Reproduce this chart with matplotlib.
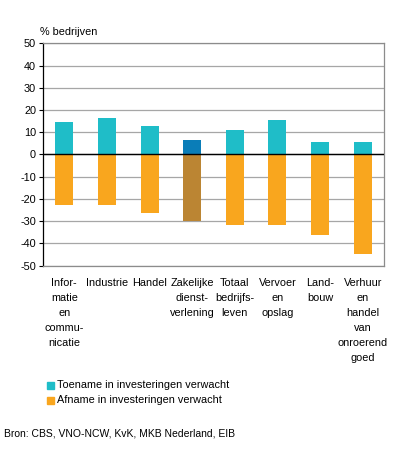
import matplotlib
matplotlib.use("Agg")
import matplotlib.pyplot as plt
from matplotlib.patches import Rectangle

plt.rcParams['font.family'] = ['Liberation Sans', 'DejaVu Sans']

categories = ["Infor-\nmatie\nen\ncommu-\nnicatie", "Industrie", "Handel",
              "Zakelijke\ndienst-\nverlening", "Totaal\nbedrijfs-\nleven",
              "Vervoer\nen\nopslag", "Land-\nbouw",
              "Verhuur\nen\nhandel\nvan\nonroerend\ngoed"]
toename = [14.4, 16.6, 13.0, 6.7, 11.2, 15.7, 5.8, 5.4]
afname = [-22.8, -22.8, -26.4, -30.1, -31.8, -31.8, -36.3, -44.8]
yticks = [50, 40, 30, 20, 10, 0, -10, -20, -30, -40, -50]

teal = "#1FBDC8"
orange = "#F9A61E"
teal_hl = "#0A7DB8"
orange_hl = "#BB8533"
highlight = 3
fs = 7.8

fig = plt.figure(figsize=(3.96, 4.5), dpi=100)
ax = fig.add_axes([43/396, 1-265.5/450, (384-43)/396, (265.5-43.3)/450])

x = list(range(len(categories)))
tc = [teal_hl if i == highlight else teal for i in x]
oc = [orange_hl if i == highlight else orange for i in x]
ax.bar(x, toename, width=0.42, color=tc, zorder=3)
ax.bar(x, afname, width=0.42, color=oc, zorder=3)

ax.set_xlim(-0.5, len(categories) - 0.5)
ax.set_ylim(-50, 50)
ax.set_yticks(yticks)
ax.set_yticklabels([str(v) for v in yticks], fontsize=fs)
ax.yaxis.grid(True, color="#A6A6A6", linewidth=0.9, zorder=0)
ax.axhline(0, color="black", linewidth=1.0, zorder=4)
ax.tick_params(axis='y', length=3, width=0.8, pad=2, direction='out')
ax.set_xticks(x)
ax.set_xticklabels(categories, fontsize=fs, linespacing=1.62, va='top')
ax.tick_params(axis='x', length=0, pad=9)
for s in ['top', 'right', 'bottom']:
    ax.spines[s].set_color("#8C8C8C")
    ax.spines[s].set_linewidth(0.9)
ax.spines['left'].set_color("black")
ax.spines['left'].set_linewidth(0.9)

fig.text(40/396, 1-32/450, "% bedrijven", fontsize=fs, va='center', ha='left')

# legend
for yy, col, lab in [(385, teal, "Toename in investeringen verwacht"),
                     (400, orange, "Afname in investeringen verwacht")]:
    fig.patches.append(Rectangle((47/396, 1-(yy+3.5)/450), 7/396, 7/450,
                                 transform=fig.transFigure, color=col))
    fig.text(57/396, 1-yy/450, lab, fontsize=fs, va='center', ha='left')

fig.text(4/396, 1-434/450, "Bron: CBS, VNO-NCW, KvK, MKB Nederland, EIB",
         fontsize=7.5, va='center', ha='left')

fig.savefig("out.png", dpi=100)
